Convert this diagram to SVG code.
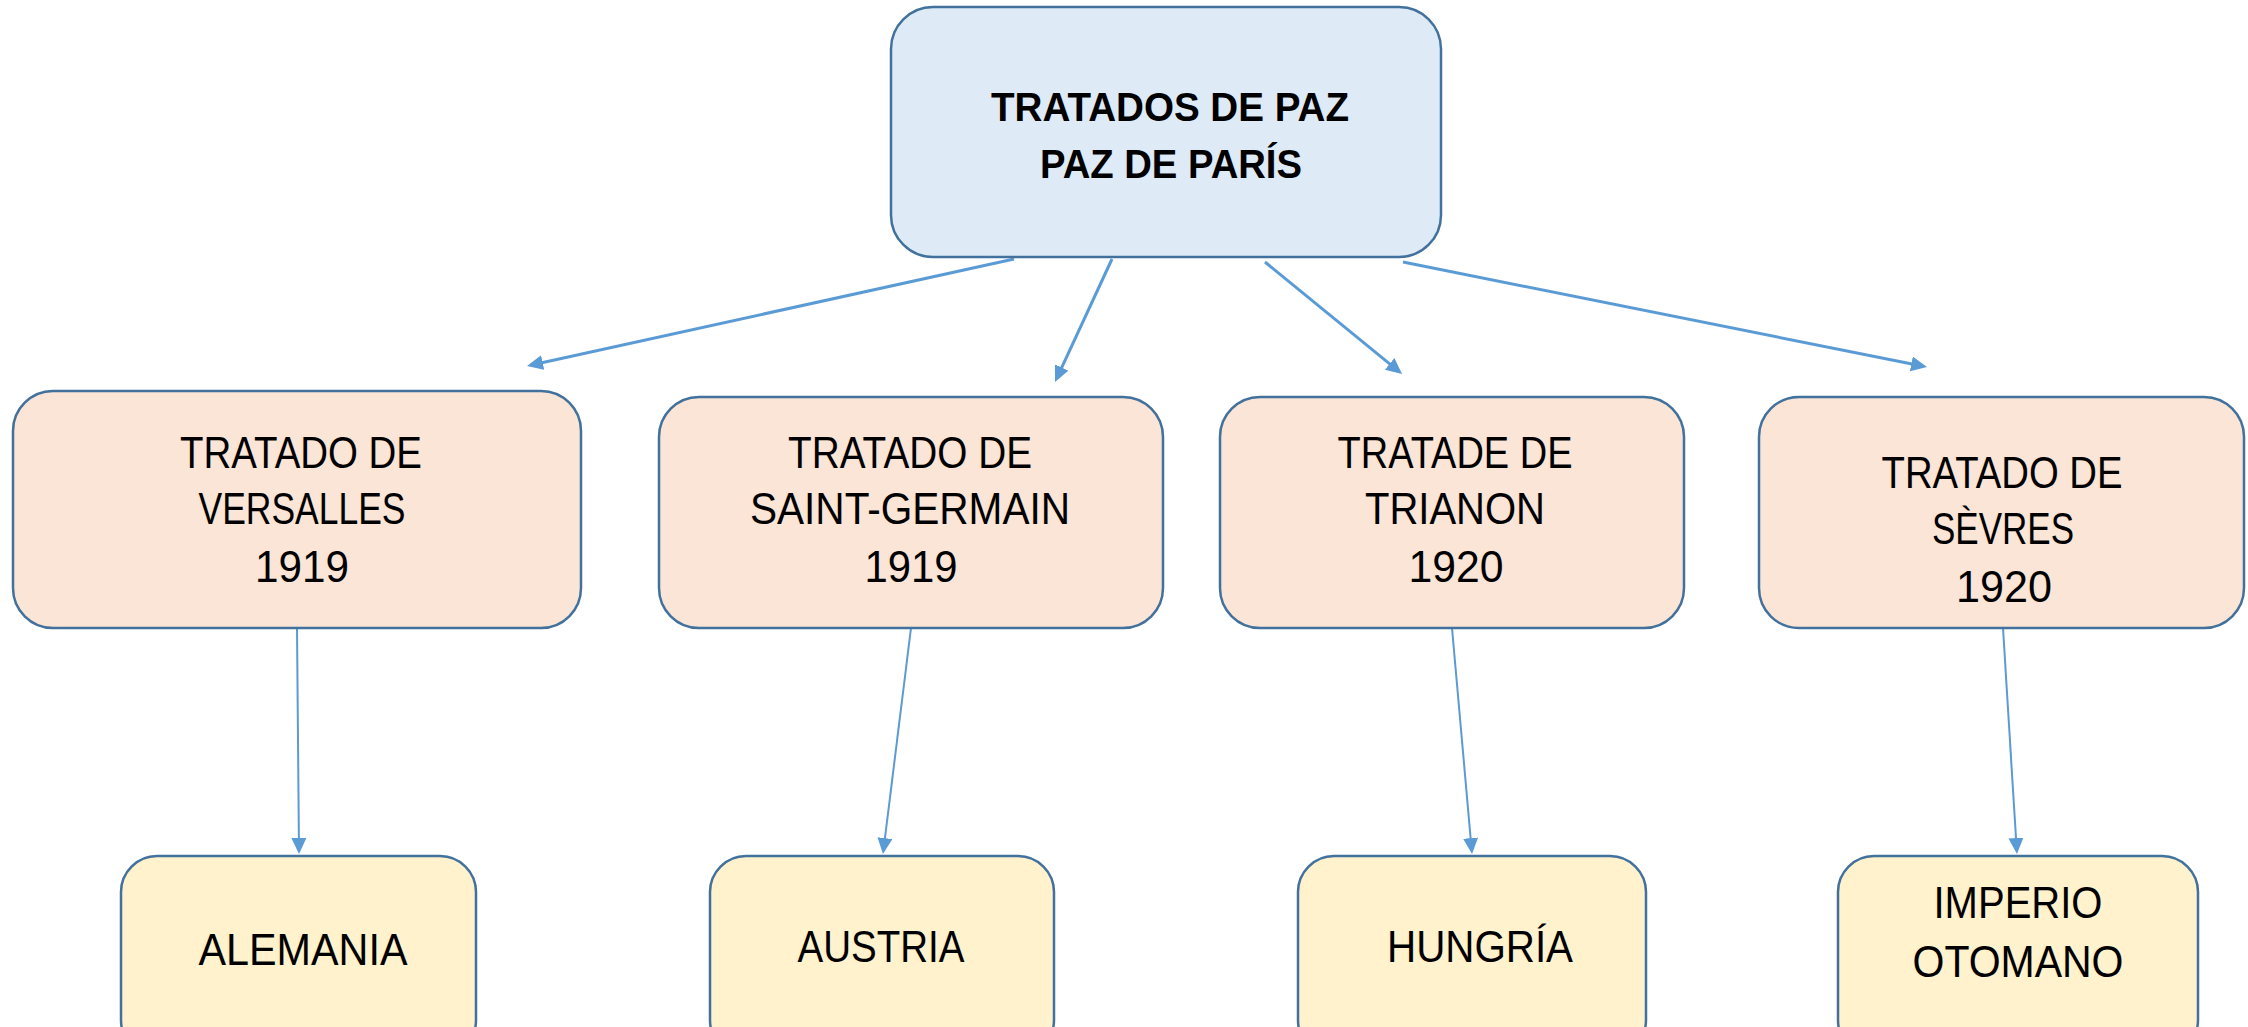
<svg xmlns="http://www.w3.org/2000/svg" width="2248" height="1027" viewBox="0 0 2248 1027">
<defs>
<style>
.box{stroke:#41719C;stroke-width:2.5}
.top{fill:#DEEBF7}
.mid{fill:#FBE5D6}
.bot{fill:#FFF2CC}
.t{font-family:"Liberation Sans",Arial,sans-serif;font-size:43.5px;fill:#000;text-anchor:middle}
.tb{font-family:"Liberation Sans",Arial,sans-serif;font-size:40.5px;font-weight:bold;fill:#000;text-anchor:middle}
.c{stroke:#5B9BD5;fill:none;marker-end:url(#ah)}
.c1{stroke-width:3}
.c2{stroke-width:2}
</style>
<marker id="ah" markerUnits="userSpaceOnUse" markerWidth="18" markerHeight="16" refX="2" refY="7.5" orient="auto">
<path d="M0,0 L16,7.5 L0,15 z" fill="#5B9BD5"/>
</marker>
</defs>
<rect width="2248" height="1027" fill="#fff"/>
<g id="connectors">
<line class="c c1" x1="1014" y1="259" x2="540.7" y2="363"/>
<line class="c c1" x1="1112" y1="259" x2="1060.9" y2="369.3"/>
<line class="c c1" x1="1265" y1="262" x2="1391.2" y2="365.1"/>
<line class="c c1" x1="1403" y1="262" x2="1913.3" y2="364.3"/>
<line class="c c2" x1="297" y1="628" x2="298.9" y2="840"/>
<line class="c c2" x1="911" y1="628" x2="884.7" y2="840.1"/>
<line class="c c2" x1="1452" y1="628" x2="1470.8" y2="840.1"/>
<line class="c c2" x1="2003" y1="628" x2="2016.1" y2="840"/>
</g>
<g id="root">
<rect class="box top" x="891" y="7" width="550" height="250" rx="42"/>
<text class="tb" x="1170" y="121" textLength="358" lengthAdjust="spacingAndGlyphs">TRATADOS DE PAZ</text>
<text class="tb" x="1171" y="178" textLength="262" lengthAdjust="spacingAndGlyphs">PAZ DE PARÍS</text>
</g>
<g id="versalles">
<rect class="box mid" x="13" y="391" width="568" height="237" rx="40"/>
<text class="t" x="301" y="468" textLength="242" lengthAdjust="spacingAndGlyphs">TRATADO DE</text>
<text class="t" x="302" y="524" textLength="207" lengthAdjust="spacingAndGlyphs">VERSALLES</text>
<text class="t" x="302" y="582" textLength="94" lengthAdjust="spacingAndGlyphs">1919</text>
</g>
<g id="saint-germain">
<rect class="box mid" x="659" y="397" width="504" height="231" rx="40"/>
<text class="t" x="910" y="468" textLength="244" lengthAdjust="spacingAndGlyphs">TRATADO DE</text>
<text class="t" x="910" y="524" textLength="320" lengthAdjust="spacingAndGlyphs">SAINT-GERMAIN</text>
<text class="t" x="911" y="582" textLength="93" lengthAdjust="spacingAndGlyphs">1919</text>
</g>
<g id="trianon">
<rect class="box mid" x="1220" y="397" width="464" height="231" rx="40"/>
<text class="t" x="1455" y="468" textLength="235" lengthAdjust="spacingAndGlyphs">TRATADE DE</text>
<text class="t" x="1455" y="524" textLength="180" lengthAdjust="spacingAndGlyphs">TRIANON</text>
<text class="t" x="1456" y="582" textLength="95" lengthAdjust="spacingAndGlyphs">1920</text>
</g>
<g id="sevres">
<rect class="box mid" x="1759" y="397" width="485" height="231" rx="40"/>
<text class="t" x="2002" y="488" textLength="241" lengthAdjust="spacingAndGlyphs">TRATADO DE</text>
<text class="t" x="2003" y="544" textLength="142" lengthAdjust="spacingAndGlyphs">SÈVRES</text>
<text class="t" x="2004" y="602" textLength="96" lengthAdjust="spacingAndGlyphs">1920</text>
</g>
<g id="alemania">
<rect class="box bot" x="121" y="856" width="355" height="200" rx="36"/>
<text class="t" x="303" y="965" textLength="209" lengthAdjust="spacingAndGlyphs">ALEMANIA</text>
</g>
<g id="austria">
<rect class="box bot" x="710" y="856" width="344" height="200" rx="36"/>
<text class="t" x="881" y="962" textLength="167" lengthAdjust="spacingAndGlyphs">AUSTRIA</text>
</g>
<g id="hungria">
<rect class="box bot" x="1298" y="856" width="348" height="200" rx="36"/>
<text class="t" x="1480" y="962" textLength="186" lengthAdjust="spacingAndGlyphs">HUNGRÍA</text>
</g>
<g id="otomano">
<rect class="box bot" x="1838" y="856" width="360" height="200" rx="36"/>
<text class="t" x="2018" y="918" textLength="169" lengthAdjust="spacingAndGlyphs">IMPERIO</text>
<text class="t" x="2018" y="977" textLength="211" lengthAdjust="spacingAndGlyphs">OTOMANO</text>
</g>
</svg>
